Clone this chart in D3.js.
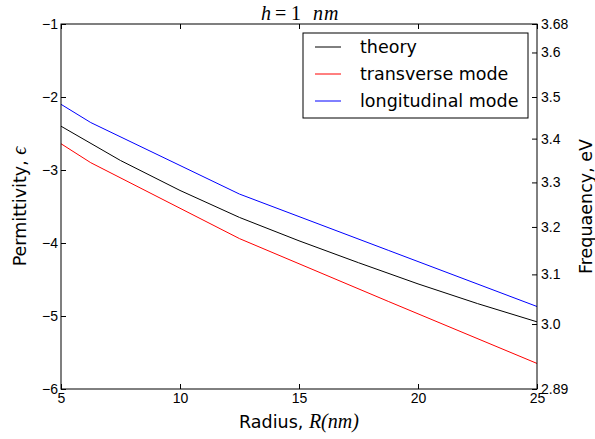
<!DOCTYPE html>
<html>
<head>
<meta charset="utf-8">
<script src="https://cdn.jsdelivr.net/npm/d3@7"></script>
<style>
  body { margin: 0; background: #fff; }
  svg { display: block; font-family: "DejaVu Sans", sans-serif; }
  .axis text { font-size: 14px; fill: #000; }
  .axis line { stroke: #000; }
</style>
</head>
<body>
<div class="canvas"></div>
<script>
const width = 595;
const height = 439;

const margin = { top: 24, right: 58, bottom: 50, left: 61 };
const innerW = width - margin.left - margin.right;
const innerH = height - margin.top - margin.bottom;

// data
const radiusTicks = [5, 10, 15, 20, 25];
const epsTicks = [-1, -2, -3, -4, -5, -6];

const theoryR = [5, 7.5, 10, 12.5, 15, 17.5, 20, 22.5, 25];
const theoryEps = [-2.40, -2.87, -3.28, -3.65, -3.97, -4.27, -4.56, -4.83, -5.08];

const modeR = [5, 6.25, 12.5, 18.75, 25];
const transverseEps = [-2.64, -2.90, -3.94, -4.80, -5.65];
const longitudinalEps = [-2.10, -2.35, -3.33, -4.10, -4.87];

// right axis: frequency labels and where they sit on the permittivity scale
const freqLabels = ["3.68", "3.6", "3.5", "3.4", "3.3", "3.2", "3.1", "3.0", "2.89"];
const freqEps = [-1, -1.39, -2.0, -2.57, -3.17, -3.78, -4.43, -5.11, -6];

const seriesNames = ["theory", "transverse mode", "longitudinal mode"];
const seriesColors = ["#000000", "#ff0000", "#0000ff"];

const series = [
  { name: seriesNames[0], color: seriesColors[0], x: theoryR, y: theoryEps },
  { name: seriesNames[1], color: seriesColors[1], x: modeR, y: transverseEps },
  { name: seriesNames[2], color: seriesColors[2], x: modeR, y: longitudinalEps }
];

// Scales
const xScale = d3.scaleLinear().domain([5, 25]).range([0, innerW]);
const yScale = d3.scaleLinear().domain([-6, -1]).range([innerH, 0]);

const svg = d3
  .select(".canvas")
  .append("svg")
  .attr("width", width)
  .attr("height", height);

const g = svg.append("g").attr("transform", `translate(${margin.left},${margin.top})`);

const fmt = d => (d < 0 ? "\u2212" + Math.abs(d) : String(d));

// Axes (ticks point inward)
const xBottom = d3.axisBottom(xScale).tickValues(radiusTicks).tickSizeInner(-5).tickSizeOuter(0).tickPadding(4);
const xTop = d3.axisTop(xScale).tickValues(radiusTicks).tickSizeInner(-5).tickSizeOuter(0).tickFormat("");
const yLeft = d3.axisLeft(yScale).tickValues(epsTicks).tickSizeInner(-5).tickSizeOuter(0).tickPadding(3).tickFormat(fmt);
const yRight = d3
  .axisRight(yScale)
  .tickValues(freqEps)
  .tickSizeInner(-5)
  .tickSizeOuter(0)
  .tickPadding(4)
  .tickFormat((d, i) => freqLabels[i]);

g.append("g").attr("class", "axis").attr("transform", `translate(0,${innerH})`).call(xBottom);
g.append("g").attr("class", "axis").call(xTop);
g.append("g").attr("class", "axis").call(yLeft);
g.append("g").attr("class", "axis").attr("transform", `translate(${innerW},0)`).call(yRight);
g.selectAll(".axis .domain").remove();

// Lines
const line = d3
  .line()
  .x(d => xScale(d[0]))
  .y(d => yScale(d[1]));

g.selectAll(".series")
  .data(series)
  .enter()
  .append("path")
  .attr("class", "series")
  .attr("fill", "none")
  .attr("stroke", d => d.color)
  .attr("stroke-width", 1)
  .attr("d", d => line(d.x.map((r, i) => [r, d.y[i]])));

// Frame
g.append("rect")
  .attr("x", 0)
  .attr("y", 0)
  .attr("width", innerW)
  .attr("height", innerH)
  .attr("fill", "none")
  .attr("stroke", "#000")
  .attr("stroke-width", 1);

// Legend
const legend = svg.append("g").attr("transform", "translate(303,33)");
legend
  .append("rect")
  .attr("width", 225)
  .attr("height", 85)
  .attr("fill", "#fff")
  .attr("stroke", "#000")
  .attr("stroke-width", 1);

const rows = legend
  .selectAll(".row")
  .data(series)
  .enter()
  .append("g")
  .attr("transform", (d, i) => `translate(0,${14 + i * 27})`);
rows.append("line").attr("x1", 12).attr("x2", 38).attr("stroke", d => d.color).attr("stroke-width", 1);
rows
  .append("text")
  .attr("x", 57)
  .attr("y", 6)
  .attr("font-size", "17.5px")
  .text(d => d.name);

// Title, spaced like mathtext
const title = svg
  .append("text")
  .attr("y", 20)
  .attr("font-family", "Liberation Serif, serif")
  .attr("font-size", "20px");
title.append("tspan").attr("x", 261).attr("font-style", "italic").text("h");
title.append("tspan").attr("x", 275).text("=");
title.append("tspan").attr("x", 291).text("1");
title.append("tspan").attr("x", 313).attr("font-style", "italic").attr("letter-spacing", "1px").text("nm");

// Axis labels
const xLabel = svg
  .append("text")
  .attr("x", margin.left + innerW / 2)
  .attr("y", 428)
  .attr("text-anchor", "middle")
  .attr("font-size", "17.5px");
xLabel.append("tspan").text("Radius, ");
xLabel.append("tspan").attr("font-family", "Liberation Serif, serif").attr("font-style", "italic").attr("font-size", "20px").text("R(nm)");

const yLabel = svg
  .append("text")
  .attr("transform", `translate(26,${margin.top + innerH / 2}) rotate(-90)`)
  .attr("text-anchor", "middle")
  .attr("font-size", "17.5px");
yLabel.append("tspan").text("Permittivity, ");
yLabel.append("tspan").attr("font-family", "Liberation Serif, serif").attr("font-style", "italic").attr("font-size", "20px").text("\u03f5");

svg
  .append("text")
  .attr("transform", `translate(592,${margin.top + innerH / 2}) rotate(-90)`)
  .attr("text-anchor", "middle")
  .attr("font-size", "17.5px")
  .text("Frequaency, eV");
</script>
</body>
</html>
